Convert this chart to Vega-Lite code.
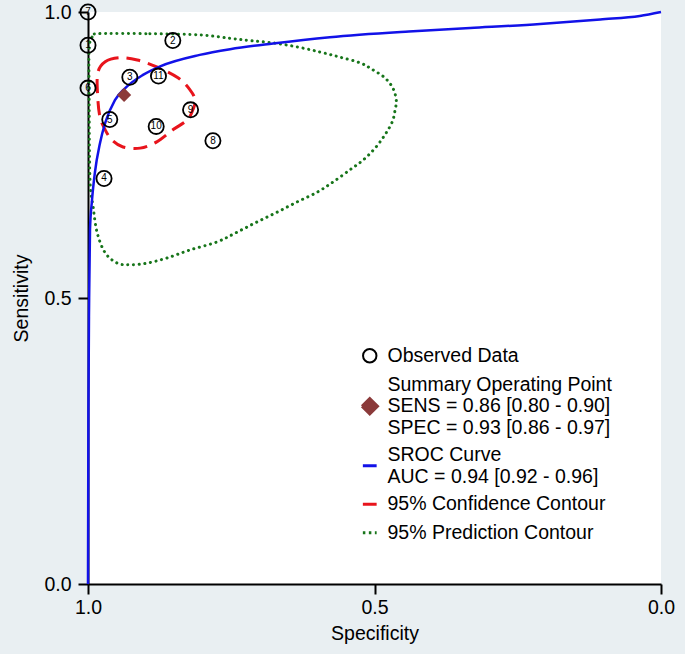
{
  "$schema": "https://vega.github.io/schema/vega-lite/v6.json",
  "width": 573,
  "height": 572,
  "autosize": {"type": "none"},
  "padding": {"left": 88, "top": 12, "right": 24, "bottom": 70},
  "background": "#e9eff2",
  "config": {
    "view": {"fill": "white", "stroke": null},
    "font": "Liberation Sans",
    "axis": {
      "grid": false,
      "domainColor": "black",
      "domainWidth": 2,
      "tickColor": "black",
      "tickWidth": 2,
      "tickSize": 10,
      "labelFont": "Liberation Sans",
      "labelFontSize": 19.5,
      "labelColor": "black",
      "labelFlush": false,
      "labelOverlap": false,
      "labelBound": false,
      "titleFont": "Liberation Sans",
      "titleFontSize": 19.5,
      "titleFontWeight": "normal",
      "titleColor": "black"
    }
  },
  "data": {
    "values": [
      {"series": "Observed Data", "study": "7", "spec": 1.0, "sens": 1.0},
      {"series": "Observed Data", "study": "1", "spec": 1.0, "sens": 0.942},
      {"series": "Observed Data", "study": "6", "spec": 1.0, "sens": 0.867},
      {"series": "Observed Data", "study": "2", "spec": 0.852, "sens": 0.95},
      {"series": "Observed Data", "study": "3", "spec": 0.927, "sens": 0.886},
      {"series": "Observed Data", "study": "11", "spec": 0.877, "sens": 0.888},
      {"series": "Observed Data", "study": "9", "spec": 0.821, "sens": 0.829},
      {"series": "Observed Data", "study": "5", "spec": 0.962, "sens": 0.812},
      {"series": "Observed Data", "study": "10", "spec": 0.881, "sens": 0.8},
      {"series": "Observed Data", "study": "8", "spec": 0.782, "sens": 0.775},
      {"series": "Observed Data", "study": "4", "spec": 0.972, "sens": 0.709},
      {"series": "Summary Operating Point", "spec": 0.937, "sens": 0.855},
      {"series": "SROC Curve", "ord": 0, "spec": 1.0, "sens": 0.0},
      {"series": "SROC Curve", "ord": 1, "spec": 0.9993, "sens": 0.3},
      {"series": "SROC Curve", "ord": 2, "spec": 0.998, "sens": 0.5},
      {"series": "SROC Curve", "ord": 3, "spec": 0.9965, "sens": 0.62},
      {"series": "SROC Curve", "ord": 4, "spec": 0.993, "sens": 0.671},
      {"series": "SROC Curve", "ord": 5, "spec": 0.988, "sens": 0.719},
      {"series": "SROC Curve", "ord": 6, "spec": 0.979, "sens": 0.771},
      {"series": "SROC Curve", "ord": 7, "spec": 0.97, "sens": 0.806},
      {"series": "SROC Curve", "ord": 8, "spec": 0.953, "sens": 0.846},
      {"series": "SROC Curve", "ord": 9, "spec": 0.935, "sens": 0.867},
      {"series": "SROC Curve", "ord": 10, "spec": 0.904, "sens": 0.89},
      {"series": "SROC Curve", "ord": 11, "spec": 0.874, "sens": 0.905},
      {"series": "SROC Curve", "ord": 12, "spec": 0.805, "sens": 0.925},
      {"series": "SROC Curve", "ord": 13, "spec": 0.752, "sens": 0.935},
      {"series": "SROC Curve", "ord": 14, "spec": 0.677, "sens": 0.945},
      {"series": "SROC Curve", "ord": 15, "spec": 0.578, "sens": 0.956},
      {"series": "SROC Curve", "ord": 16, "spec": 0.44, "sens": 0.966},
      {"series": "SROC Curve", "ord": 17, "spec": 0.333, "sens": 0.972},
      {"series": "SROC Curve", "ord": 18, "spec": 0.211, "sens": 0.979},
      {"series": "SROC Curve", "ord": 19, "spec": 0.106, "sens": 0.987},
      {"series": "SROC Curve", "ord": 20, "spec": 0.037, "sens": 0.993},
      {"series": "SROC Curve", "ord": 21, "spec": 0.0, "sens": 1.0},
      {"series": "95% Confidence Contour", "ord": 0, "spec": 0.983, "sens": 0.893},
      {"series": "95% Confidence Contour", "ord": 1, "spec": 0.97, "sens": 0.913},
      {"series": "95% Confidence Contour", "ord": 2, "spec": 0.944, "sens": 0.92},
      {"series": "95% Confidence Contour", "ord": 3, "spec": 0.914, "sens": 0.916},
      {"series": "95% Confidence Contour", "ord": 4, "spec": 0.88, "sens": 0.904},
      {"series": "95% Confidence Contour", "ord": 5, "spec": 0.843, "sens": 0.885},
      {"series": "95% Confidence Contour", "ord": 6, "spec": 0.822, "sens": 0.864},
      {"series": "95% Confidence Contour", "ord": 7, "spec": 0.813, "sens": 0.846},
      {"series": "95% Confidence Contour", "ord": 8, "spec": 0.817, "sens": 0.829},
      {"series": "95% Confidence Contour", "ord": 9, "spec": 0.827, "sens": 0.811},
      {"series": "95% Confidence Contour", "ord": 10, "spec": 0.852, "sens": 0.794},
      {"series": "95% Confidence Contour", "ord": 11, "spec": 0.88, "sens": 0.773},
      {"series": "95% Confidence Contour", "ord": 12, "spec": 0.909, "sens": 0.762},
      {"series": "95% Confidence Contour", "ord": 13, "spec": 0.939, "sens": 0.764},
      {"series": "95% Confidence Contour", "ord": 14, "spec": 0.958, "sens": 0.776},
      {"series": "95% Confidence Contour", "ord": 15, "spec": 0.97, "sens": 0.794},
      {"series": "95% Confidence Contour", "ord": 16, "spec": 0.979, "sens": 0.816},
      {"series": "95% Confidence Contour", "ord": 17, "spec": 0.983, "sens": 0.851},
      {"series": "95% Prediction Contour", "ord": 0, "spec": 0.984, "sens": 0.962},
      {"series": "95% Prediction Contour", "ord": 1, "spec": 0.892, "sens": 0.962},
      {"series": "95% Prediction Contour", "ord": 2, "spec": 0.805, "sens": 0.96},
      {"series": "95% Prediction Contour", "ord": 3, "spec": 0.752, "sens": 0.954},
      {"series": "95% Prediction Contour", "ord": 4, "spec": 0.717, "sens": 0.95},
      {"series": "95% Prediction Contour", "ord": 5, "spec": 0.677, "sens": 0.946},
      {"series": "95% Prediction Contour", "ord": 6, "spec": 0.635, "sens": 0.939},
      {"series": "95% Prediction Contour", "ord": 7, "spec": 0.595, "sens": 0.93},
      {"series": "95% Prediction Contour", "ord": 8, "spec": 0.56, "sens": 0.921},
      {"series": "95% Prediction Contour", "ord": 9, "spec": 0.525, "sens": 0.911},
      {"series": "95% Prediction Contour", "ord": 10, "spec": 0.503, "sens": 0.899},
      {"series": "95% Prediction Contour", "ord": 11, "spec": 0.482, "sens": 0.885},
      {"series": "95% Prediction Contour", "ord": 12, "spec": 0.468, "sens": 0.867},
      {"series": "95% Prediction Contour", "ord": 13, "spec": 0.462, "sens": 0.846},
      {"series": "95% Prediction Contour", "ord": 14, "spec": 0.464, "sens": 0.829},
      {"series": "95% Prediction Contour", "ord": 15, "spec": 0.469, "sens": 0.808},
      {"series": "95% Prediction Contour", "ord": 16, "spec": 0.482, "sens": 0.785},
      {"series": "95% Prediction Contour", "ord": 17, "spec": 0.499, "sens": 0.762},
      {"series": "95% Prediction Contour", "ord": 18, "spec": 0.52, "sens": 0.741},
      {"series": "95% Prediction Contour", "ord": 19, "spec": 0.543, "sens": 0.724},
      {"series": "95% Prediction Contour", "ord": 20, "spec": 0.572, "sens": 0.703},
      {"series": "95% Prediction Contour", "ord": 21, "spec": 0.6, "sens": 0.685},
      {"series": "95% Prediction Contour", "ord": 22, "spec": 0.635, "sens": 0.668},
      {"series": "95% Prediction Contour", "ord": 23, "spec": 0.67, "sens": 0.65},
      {"series": "95% Prediction Contour", "ord": 24, "spec": 0.705, "sens": 0.633},
      {"series": "95% Prediction Contour", "ord": 25, "spec": 0.74, "sens": 0.615},
      {"series": "95% Prediction Contour", "ord": 26, "spec": 0.775, "sens": 0.598},
      {"series": "95% Prediction Contour", "ord": 27, "spec": 0.822, "sens": 0.584},
      {"series": "95% Prediction Contour", "ord": 28, "spec": 0.862, "sens": 0.57},
      {"series": "95% Prediction Contour", "ord": 29, "spec": 0.897, "sens": 0.561},
      {"series": "95% Prediction Contour", "ord": 30, "spec": 0.927, "sens": 0.558},
      {"series": "95% Prediction Contour", "ord": 31, "spec": 0.949, "sens": 0.561},
      {"series": "95% Prediction Contour", "ord": 32, "spec": 0.97, "sens": 0.579},
      {"series": "95% Prediction Contour", "ord": 33, "spec": 0.984, "sens": 0.614},
      {"series": "95% Prediction Contour", "ord": 34, "spec": 0.991, "sens": 0.659},
      {"series": "95% Prediction Contour", "ord": 35, "spec": 0.9965, "sens": 0.706},
      {"series": "95% Prediction Contour", "ord": 36, "spec": 0.998, "sens": 0.846},
      {"series": "95% Prediction Contour", "ord": 37, "spec": 0.998, "sens": 0.934},
      {"series": "95% Prediction Contour", "ord": 38, "spec": 0.993, "sens": 0.956}
    ]
  },
  "encoding": {
    "x": {
      "field": "spec", "type": "quantitative",
      "scale": {"domain": [0, 1], "reverse": true, "nice": false, "zero": false},
      "axis": {"values": [0, 0.5, 1], "format": ".1f", "title": "Specificity", "labelPadding": 4, "titlePadding": 8}
    },
    "y": {
      "field": "sens", "type": "quantitative",
      "scale": {"domain": [0, 1], "nice": false, "zero": false},
      "axis": {"values": [0, 0.5, 1], "format": ".1f", "title": "Sensitivity", "labelPadding": 7, "titlePadding": 12}
    },
    "color": {
      "field": "series", "type": "nominal",
      "scale": {
        "domain": ["Observed Data", "Summary Operating Point", "SROC Curve", "95% Confidence Contour", "95% Prediction Contour"],
        "range": ["#000000", "#8b3a3a", "#1212e8", "#e8141c", "#17751a"]
      },
      "legend": {
        "title": null,
        "orient": "none",
        "legendX": 272,
        "legendY": 334,
        "padding": 0,
        "labelFont": "Liberation Sans",
        "labelFontSize": 19.5,
        "labelColor": "black",
        "labelLimit": 400,
        "labelOffset": 8,
        "rowPadding": 7.5,
        "symbolSize": 240,
        "symbolStrokeWidth": 3,
        "labelExpr": "datum.label == 'Summary Operating Point' ? ['Summary Operating Point', 'SENS = 0.86 [0.80 - 0.90]', 'SPEC = 0.93 [0.86 - 0.97]'] : datum.label == 'SROC Curve' ? ['SROC Curve', 'AUC = 0.94 [0.92 - 0.96]'] : datum.label",
        "encoding": {
          "labels": {
            "dy": {"value": {"expr": "datum.value === 'Summary Operating Point' ? -21.5 : datum.value === 'SROC Curve' ? -10.75 : 0"}}
          },
          "symbols": {
            "shape": {"value": {"expr": "datum.value === 'Observed Data' ? 'circle' : datum.value === 'Summary Operating Point' ? 'diamond' : 'stroke'"}},
            "fill": {"value": {"expr": "datum.value === 'Summary Operating Point' ? '#8b3a3a' : 'transparent'"}},
            "fillOpacity": {"value": {"expr": "datum.value === 'Summary Operating Point' ? 1 : 0"}},
            "stroke": {"value": {"expr": "datum.value === 'Observed Data' ? '#000000' : datum.value === 'Summary Operating Point' ? '#8b3a3a' : datum.value === 'SROC Curve' ? '#1212e8' : datum.value === '95% Confidence Contour' ? '#e8141c' : '#17751a'"}},
            "strokeOpacity": {"value": 1},
            "strokeWidth": {"value": {"expr": "datum.value === 'Observed Data' ? 2 : 3"}},
            "size": {"value": {"expr": "datum.value === 'Observed Data' ? 180 : datum.value === 'Summary Operating Point' ? 240 : 190"}},
            "strokeDash": {"value": {"expr": "datum.value === '95% Prediction Contour' ? [2.5, 3.5] : [100, 0]"}}
          }
        }
      }
    }
  },
  "layer": [
    {
      "transform": [{"filter": "datum.series === '95% Prediction Contour'"}],
      "mark": {"type": "line", "interpolate": "cardinal-closed", "strokeWidth": 3, "strokeDash": [0.1, 5.6], "strokeCap": "round"},
      "encoding": {"order": {"field": "ord", "type": "quantitative"}}
    },
    {
      "transform": [{"filter": "datum.series === '95% Confidence Contour'"}],
      "mark": {"type": "line", "interpolate": "cardinal-closed", "strokeWidth": 3, "strokeDash": [14, 8]},
      "encoding": {"order": {"field": "ord", "type": "quantitative"}}
    },
    {
      "transform": [{"filter": "datum.series === 'SROC Curve'"}],
      "mark": {"type": "line", "interpolate": "monotone", "strokeWidth": 2.5},
      "encoding": {"order": {"field": "ord", "type": "quantitative"}}
    },
    {
      "transform": [{"filter": "datum.series === 'Observed Data'"}],
      "mark": {"type": "point", "shape": "circle", "filled": false, "size": 230, "strokeWidth": 1.8, "opacity": 1}
    },
    {
      "transform": [{"filter": "datum.series === 'Observed Data'"}],
      "mark": {"type": "text", "fontSize": 10, "font": "Liberation Sans", "align": "center", "baseline": "middle"},
      "encoding": {"text": {"field": "study"}, "color": {"value": "black"}}
    },
    {
      "transform": [{"filter": "datum.series === 'Summary Operating Point'"}],
      "mark": {"type": "point", "shape": "diamond", "filled": true, "size": 200, "opacity": 1}
    }
  ]
}
